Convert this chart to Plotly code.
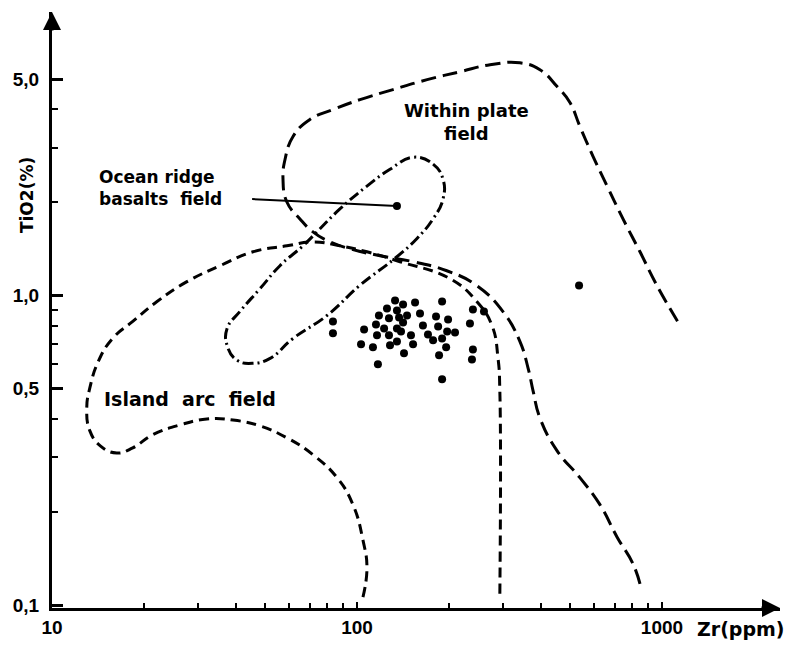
import plotly.graph_objects as go

# Island arc field boundary (Zr ppm, TiO2 %)
arc_zr = [104.6, 107.8, 104.6, 97.0, 86.0, 71.7, 58.9, 48.1, 39.2, 32.2,
          26.3, 21.4, 18.4, 16.3, 14.4, 13.3, 13.0, 13.3, 14.2, 15.8,
          18.4, 22.1, 27.7, 35.6, 45.6, 58.9, 71.7, 87.9, 107.8, 138.4,
          201.8, 247, 277, 290, 294, 294]
arc_ti = [0.106, 0.132, 0.162, 0.211, 0.258, 0.306, 0.347, 0.379, 0.396, 0.399,
          0.382, 0.355, 0.322, 0.310, 0.327, 0.366, 0.433, 0.502, 0.614, 0.727,
          0.825, 0.957, 1.109, 1.249, 1.385, 1.448, 1.491, 1.448, 1.385, 1.286,
          1.134, 0.957, 0.801, 0.627, 0.491, 0.108]

# Within plate field boundary
wp_zr = [847, 803, 712, 626, 538, 453, 398, 378, 364, 342, 301,
         247, 197, 153, 119, 94.9, 81.5, 71.7, 65.0, 58.9, 57.2,
         58.1, 61.7, 70.1, 83.4, 102.3, 131.2, 169.8, 217.8, 273, 342,
         398, 453, 499, 538, 594, 661, 745, 847, 963, 1146]
wp_ti = [0.117, 0.136, 0.166, 0.211, 0.258, 0.315, 0.402, 0.491, 0.582, 0.711, 0.888,
         1.077, 1.203, 1.286, 1.345, 1.416, 1.491, 1.606, 1.769, 2.006, 2.378,
         2.757, 3.268, 3.709, 3.992, 4.298, 4.630, 4.986, 5.290, 5.571, 5.650,
         5.370, 4.735, 4.206, 3.521, 2.818, 2.258, 1.769, 1.385, 1.077, 0.801]

# Ocean ridge basalts field boundary (closed loop)
or_zr = [153, 177.6, 191.4, 191.4, 177.6, 157.3, 133.3, 102.3, 79.7, 61.7,
         51.9, 45.6, 40.4, 37.5, 37.5, 41.3, 48.1, 55.9, 66.5, 73.9,
         87.9, 107.8, 128.3, 153]
or_ti = [2.80, 2.66, 2.38, 2.05, 1.77, 1.53, 1.32, 1.08, 0.862, 0.727,
         0.627, 0.604, 0.618, 0.691, 0.783, 0.888, 1.053, 1.249, 1.448, 1.606,
         1.905, 2.258, 2.56, 2.80]

# Sample points
pt_zr = [133.3, 141.6, 155.0, 125.4, 135.2, 118.0, 127.3, 137.4, 145.9, 141.6,
         160.9, 190.1, 181.6, 198.9, 239.9, 234.6, 164.5, 105.5, 115.4, 122.7,
         135.2, 184.5, 83.4, 83.4, 116.3, 127.3, 139.4, 150.3, 170.9, 197.5,
         209.6, 177.6, 190.1, 103.1, 112.8, 128.3, 135.2, 152.7, 196.0, 142.6,
         185.8, 239.9, 238.2, 117.1, 190.1, 260.8, 534.6, 135.2]
pt_ti = [0.964, 0.936, 0.950, 0.908, 0.895, 0.862, 0.844, 0.850, 0.862, 0.819,
         0.875, 0.957, 0.856, 0.837, 0.902, 0.813, 0.801, 0.777, 0.807, 0.783,
         0.783, 0.795, 0.825, 0.755, 0.744, 0.744, 0.766, 0.744, 0.749, 0.766,
         0.760, 0.717, 0.727, 0.696, 0.681, 0.691, 0.711, 0.696, 0.681, 0.651,
         0.641, 0.670, 0.622, 0.600, 0.537, 0.888, 1.077, 1.947]

# Leader line from the ocean ridge label
lead_zr = [45.3, 135.2]
lead_ti = [2.05, 1.947]

x_major = [10, 100, 1000]
x_major_text = ["10", "100", "1000"]
x_minor = [20, 30, 40, 50, 60, 70, 80, 90, 200, 300, 400, 500, 600, 700, 800, 900]
y_major = [0.1, 0.5, 1.0, 5.0]
y_major_text = ["0,1", "0,5", "1,0", "5,0"]
y_minor = [0.2, 0.3, 0.4, 0.6, 0.7, 0.8, 0.9, 2, 3, 4]

fig = go.Figure()
line_kw = dict(color="black", width=3, shape="spline", smoothing=1.3)
fig.add_trace(go.Scatter(x=arc_zr, y=arc_ti, mode="lines",
                         line=dict(dash="10px,6px", **line_kw), hoverinfo="skip"))
fig.add_trace(go.Scatter(x=wp_zr, y=wp_ti, mode="lines",
                         line=dict(dash="15px,7px", **line_kw), hoverinfo="skip"))
fig.add_trace(go.Scatter(x=or_zr, y=or_ti, mode="lines",
                         line=dict(dash="11px,4px,2px,4px", **line_kw), hoverinfo="skip"))
fig.add_trace(go.Scatter(x=lead_zr, y=lead_ti, mode="lines",
                         line=dict(color="black", width=2), hoverinfo="skip"))
fig.add_trace(go.Scatter(x=pt_zr, y=pt_ti, mode="markers",
                         marker=dict(color="black", size=8, symbol="circle"), hoverinfo="skip"))

tick_font = dict(family="Liberation Sans", size=19, color="black", weight="bold")
fig.update_xaxes(type="log", range=[1.0, 3.3869], showline=True, linewidth=3, linecolor="black",
                 showgrid=False, zeroline=False, tickmode="array", tickvals=x_major,
                 ticktext=x_major_text, ticks="inside", ticklen=6, tickwidth=2, tickcolor="black",
                 tickfont=tick_font,
                 minor=dict(tickmode="array", tickvals=x_minor, ticks="inside", ticklen=5,
                            tickwidth=2, tickcolor="black", showgrid=False))
fig.update_yaxes(type="log", range=[-1.00965, 0.9164], showline=True, linewidth=3, linecolor="black",
                 showgrid=False, zeroline=False, tickmode="array", tickvals=y_major,
                 ticktext=y_major_text, ticks="inside", ticklen=11, tickwidth=2.5, tickcolor="black",
                 tickfont=tick_font, ticklabelstandoff=6,
                 minor=dict(tickmode="array", tickvals=y_minor, ticks="inside", ticklen=6,
                            tickwidth=2, tickcolor="black", showgrid=False))

def px_x(p):
    return (p - 52) / 728.0
def px_y(p):
    return (611 - p) / 599.0

texts = [
    ("Ocean ridge<br>basalts\u00a0 field", 97, 189, "left", 17),
    ("Within plate<br>field", 466, 123, "center", 18),
    ("Island\u00a0 arc\u00a0 field", 102, 401, "left", 19),
]
for t, x, y, anc, fs in texts:
    fig.add_annotation(text=t, xref="paper", yref="paper", x=px_x(x), y=px_y(y),
                       xanchor=anc, yanchor="middle", align=anc, showarrow=False,
                       font=dict(family="DejaVu Sans", size=fs, color="black", weight="bold"))

fig.add_annotation(text="TiO2(%)", xref="paper", yref="paper", x=px_x(27), y=px_y(196),
                   xanchor="center", yanchor="middle", showarrow=False, textangle=-90,
                   font=dict(family="DejaVu Sans", size=17, color="black", weight="bold"))
fig.add_annotation(text="Zr(ppm)", xref="paper", yref="paper", x=px_x(695), y=px_y(632),
                   xanchor="left", yanchor="middle", showarrow=False,
                   font=dict(family="DejaVu Sans", size=19, color="black", weight="bold"))

# axis arrow heads
fig.add_annotation(x=1.0, y=0, xref="paper", yref="paper", ax=-20, ay=0, axref="pixel", ayref="pixel",
                   showarrow=True, arrowhead=2, arrowsize=1.2, arrowwidth=3, arrowcolor="black", text="")
fig.add_annotation(x=0, y=1.0, xref="paper", yref="paper", ax=0, ay=20, axref="pixel", ayref="pixel",
                   showarrow=True, arrowhead=2, arrowsize=1.2, arrowwidth=3, arrowcolor="black", text="")

fig.update_layout(width=791, height=649, margin=dict(l=52, r=11, t=12, b=38),
                  paper_bgcolor="white", plot_bgcolor="white", showlegend=False)
fig.write_html("out.html")
